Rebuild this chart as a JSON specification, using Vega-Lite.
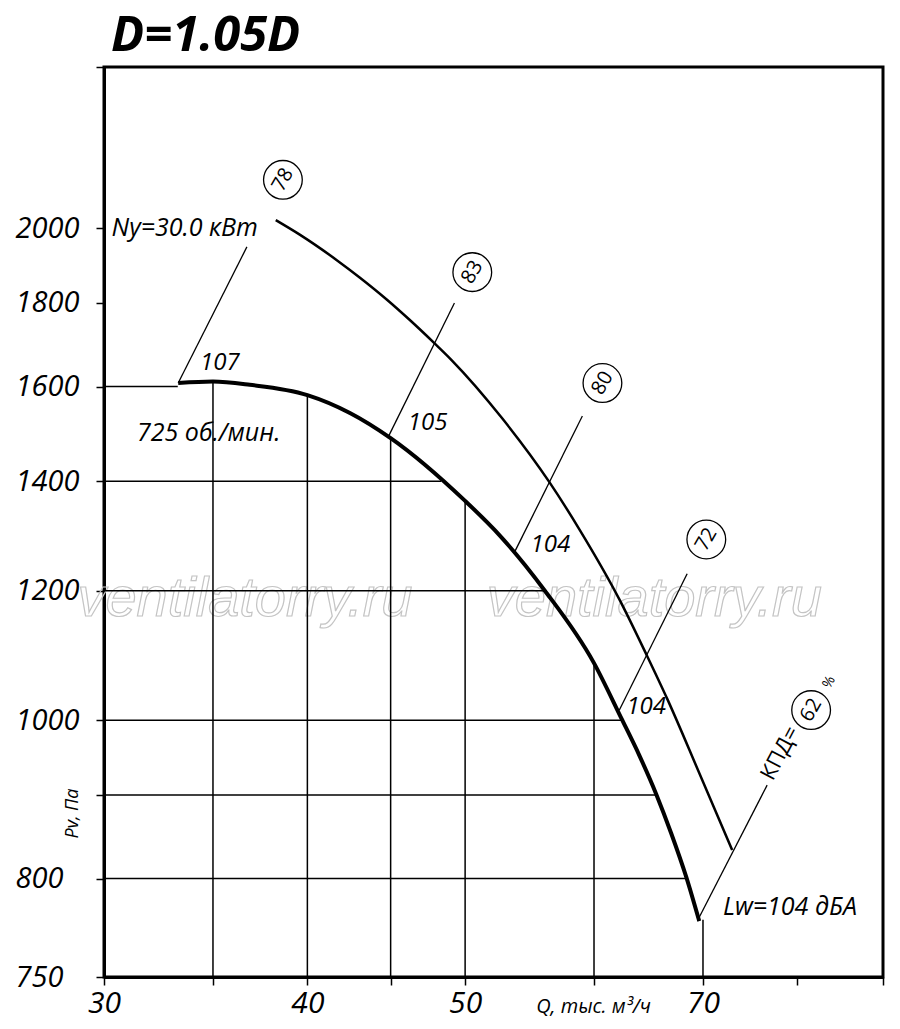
{
  "$schema": "https://vega.github.io/schema/vega-lite/v6.json",
  "width": 779,
  "height": 910,
  "autosize": {"type": "none"},
  "padding": {"left": 104, "top": 67, "right": 17, "bottom": 52},
  "background": "white",
  "title": {
    "text": "D=1.05D",
    "anchor": "start",
    "frame": "group",
    "font": "Open Sans",
    "fontSize": 49,
    "fontWeight": "bold",
    "fontStyle": "italic",
    "color": "black",
    "offset": -8,
    "dx": 7
  },
  "config": {
    "view": {"stroke": "black", "strokeWidth": 3},
    "axis": {
      "grid": false,
      "domainColor": "black",
      "domainWidth": 3,
      "tickColor": "black",
      "tickWidth": 1.5,
      "tickSize": 8,
      "labelFont": "Open Sans",
      "labelFontStyle": "italic",
      "labelColor": "black",
      "labelFlush": false,
      "labelOverlap": false,
      "titleFont": "Open Sans",
      "titleFontWeight": "normal",
      "titleFontStyle": "italic",
      "titleColor": "black"
    }
  },
  "datasets": {
    "curve": [
      {"q": 33.32, "p": 1608},
      {"q": 35.0, "p": 1611.5},
      {"q": 36.87, "p": 1604},
      {"q": 40.0, "p": 1581},
      {"q": 42.48, "p": 1541.7},
      {"q": 45.0, "p": 1488},
      {"q": 50.0, "p": 1362},
      {"q": 52.5, "p": 1297.6},
      {"q": 55.94, "p": 1201},
      {"q": 60.0, "p": 1083.7},
      {"q": 62.36, "p": 1002.9},
      {"q": 63.96, "p": 952},
      {"q": 65.52, "p": 901},
      {"q": 66.92, "p": 852.7},
      {"q": 68.36, "p": 801.8},
      {"q": 69.63, "p": 753.4}
    ],
    "upper": [
      {"q": 38.25, "p": 2023},
      {"q": 39.57, "p": 1982},
      {"q": 41.7, "p": 1912},
      {"q": 43.07, "p": 1866},
      {"q": 44.75, "p": 1809},
      {"q": 46.22, "p": 1758},
      {"q": 47.87, "p": 1701},
      {"q": 49.05, "p": 1661},
      {"q": 52.72, "p": 1529},
      {"q": 56.33, "p": 1398.5},
      {"q": 58.77, "p": 1308.6},
      {"q": 62.18, "p": 1186},
      {"q": 64.69, "p": 1094.3},
      {"q": 66.56, "p": 1030.1},
      {"q": 69.63, "p": 928.3},
      {"q": 72.95, "p": 832.8}
    ],
    "leaders": [
      {"id": "ny", "q": 33.32, "p": 1608},
      {"id": "ny", "q": 36.72, "p": 1948},
      {"id": "83", "q": 44.81, "p": 1488},
      {"id": "83", "q": 49.25, "p": 1800},
      {"id": "80", "q": 53.66, "p": 1269},
      {"id": "80", "q": 59.02, "p": 1535},
      {"id": "72", "q": 62.18, "p": 1014},
      {"id": "72", "q": 68.45, "p": 1229},
      {"id": "62", "q": 69.63, "p": 757.6},
      {"id": "62", "q": 76.65, "p": 912.6}
    ],
    "vgrid": [
      {"q": 35, "p": 696.4, "p2": 1611},
      {"q": 40, "p": 696.4, "p2": 1581},
      {"q": 45, "p": 696.4, "p2": 1488},
      {"q": 50, "p": 696.4, "p2": 1362},
      {"q": 60, "p": 696.4, "p2": 1083},
      {"q": 70, "p": 696.4, "p2": 755}
    ],
    "hgrid": [
      {"p": 1600, "q": 30, "q2": 33.3},
      {"p": 1400, "q": 30, "q2": 48.33},
      {"p": 1200, "q": 30, "q2": 55.94},
      {"p": 1000, "q": 30, "q2": 62.5},
      {"p": 900, "q": 30, "q2": 65.52},
      {"p": 800, "q": 30, "q2": 68.36}
    ],
    "circles": [
      {"q": 38.64, "p": 2141, "t": "78"},
      {"q": 50.51, "p": 1880, "t": "83"},
      {"q": 60.72, "p": 1608, "t": "80"},
      {"q": 70.33, "p": 1290, "t": "72"},
      {"q": 81.57, "p": 1014.3, "t": "62"}
    ],
    "labels": [
      {"q": 33.63, "p": 2001, "t": "Ny=30.0 кВт", "s": 25},
      {"q": 35.34, "p": 1654, "t": "107", "s": 24},
      {"q": 34.79, "p": 1498, "t": "725 об./мин.", "s": 25},
      {"q": 47.42, "p": 1520, "t": "105", "s": 24},
      {"q": 56.41, "p": 1280, "t": "104", "s": 24},
      {"q": 64.6, "p": 1018.6, "t": "104", "s": 24},
      {"q": 79.17, "p": 768.3, "t": "Lw=104 дБА", "s": 25}
    ],
    "kpd": [
      {"q": 78.06, "p": 954.6, "t": "КПД=", "s": 22},
      {"q": 83.67, "p": 1055, "t": "%", "s": 14}
    ],
    "watermark": [
      {"q": 36.62, "p": 1187, "t": "ventilatorry.ru"},
      {"q": 65.34, "p": 1187, "t": "ventilatorry.ru"}
    ]
  },
  "encoding": {
    "x": {
      "field": "q",
      "type": "quantitative",
      "scale": {"type": "log", "domain": [30, 90.3], "nice": false, "zero": false},
      "axis": {
        "values": [30, 35, 40, 45, 50, 60, 70, 80, 90.3],
        "labelExpr": "indexof([30, 40, 50, 70], datum.value) >= 0 ? format(datum.value, 'd') : ''",
        "labelFontSize": 30,
        "labelPadding": 3,
        "title": "Q, тыс. м³/ч",
        "titleFontSize": 20,
        "titleX": 489,
        "titleY": 29,
        "titleAlign": "center",
        "titleBaseline": "middle"
      }
    },
    "y": {
      "field": "p",
      "type": "quantitative",
      "scale": {"type": "log", "domain": [696.4, 2510], "nice": false, "zero": false},
      "axis": {
        "values": [696.4, 800, 900, 1000, 1200, 1400, 1600, 1800, 2000, 2510],
        "labelExpr": "datum.value < 750 ? '750' : (datum.value == 900 || datum.value > 2400) ? '' : format(datum.value, 'd')",
        "labelFontSize": 29,
        "labelAlign": "left",
        "labelBaseline": "middle",
        "labelPadding": 81,
        "title": "Pv, Па",
        "titleFontSize": 18,
        "titleAngle": -90,
        "titleX": -32,
        "titleY": 746,
        "titleAlign": "center",
        "titleBaseline": "middle"
      }
    }
  },
  "layer": [
    {
      "data": {"name": "watermark"},
      "mark": {"type": "text", "font": "Liberation Sans", "fontStyle": "italic", "fontSize": 56, "fillOpacity": 0, "stroke": "#c4c4c4", "strokeWidth": 1.2},
      "encoding": {"text": {"field": "t"}}
    },
    {
      "data": {"name": "vgrid"},
      "mark": {"type": "rule", "color": "black", "strokeWidth": 1.5},
      "encoding": {"y2": {"field": "p2"}}
    },
    {
      "data": {"name": "hgrid"},
      "mark": {"type": "rule", "color": "black", "strokeWidth": 1.5},
      "encoding": {"x2": {"field": "q2"}}
    },
    {
      "data": {"name": "leaders"},
      "mark": {"type": "line", "color": "black", "strokeWidth": 1.3},
      "encoding": {"detail": {"field": "id"}}
    },
    {
      "data": {"name": "upper"},
      "mark": {"type": "line", "color": "black", "strokeWidth": 2.5, "interpolate": "monotone"},
      "encoding": {}
    },
    {
      "data": {"name": "curve"},
      "mark": {"type": "line", "color": "black", "strokeWidth": 4, "interpolate": "monotone"},
      "encoding": {}
    },
    {
      "data": {"name": "circles"},
      "mark": {"type": "point", "shape": "circle", "size": 1500, "filled": false, "stroke": "black", "strokeWidth": 1.3, "opacity": 1},
      "encoding": {}
    },
    {
      "data": {"name": "circles"},
      "mark": {"type": "text", "font": "Open Sans", "fontSize": 20, "angle": -60, "color": "black"},
      "encoding": {"text": {"field": "t"}}
    },
    {
      "data": {"name": "labels"},
      "mark": {"type": "text", "font": "Open Sans", "fontStyle": "italic", "color": "black"},
      "encoding": {
        "text": {"field": "t"},
        "size": {"field": "s", "type": "quantitative", "scale": null}
      }
    },
    {
      "data": {"name": "kpd"},
      "mark": {"type": "text", "font": "Open Sans", "angle": -62, "color": "black"},
      "encoding": {
        "text": {"field": "t"},
        "size": {"field": "s", "type": "quantitative", "scale": null}
      }
    }
  ]
}
